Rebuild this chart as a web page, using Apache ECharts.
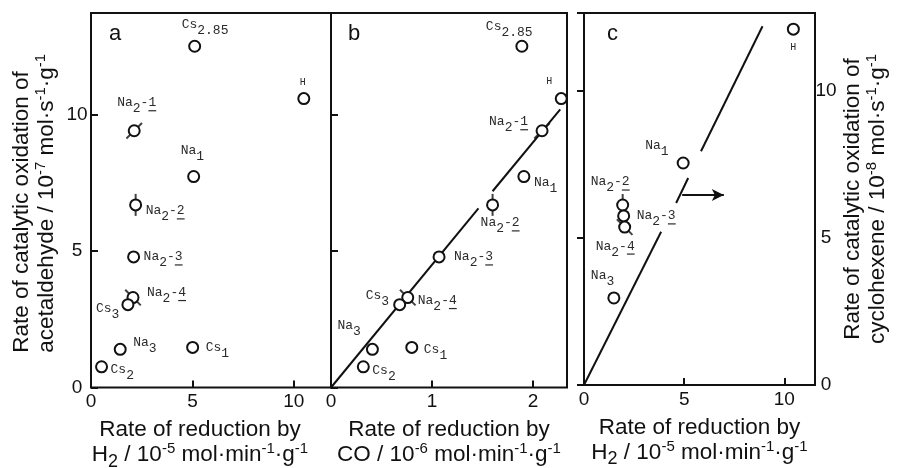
<!DOCTYPE html>
<html><head><meta charset="utf-8">
<script src="https://cdn.jsdelivr.net/npm/echarts@6/dist/echarts.min.js"></script>
<style>html,body{margin:0;padding:0;background:#fff}#c{width:899px;height:468px}</style>
</head><body><div id="c"></div>
<script>
// ---------- data ----------
const catalysts = ['Cs2.85','H','Na2-1','Na1','Na2-2','Na2-3','Na2-4','Cs3','Na3','Cs1','Cs2'];
// rate of catalytic oxidation of acetaldehyde / 1e-7 mol s-1 g-1 (panels a, b)
const acetaldehydeRate = [12.52, 10.6, 9.42, 7.74, 6.7, 4.79, 3.3, 3.04, 1.4, 1.47, 0.76];
// panel a : rate of reduction by H2 / 1e-5 mol min-1 g-1
const h2RateA = [5.11, 10.49, 2.13, 5.06, 2.2, 2.1, 2.07, 1.82, 1.44, 5.01, 0.52];
// panel b : rate of reduction by CO / 1e-6 mol min-1 g-1
const coRateB = [1.89, 2.28, 2.09, 1.91, 1.6, 1.07, 0.76, 0.68, 0.41, 0.8, 0.32];
// panel c
const catalystsC = ['H','Na1','Na2-2','Na2-3','Na2-4','Na3'];
const h2RateC = [10.45, 4.95, 1.93, 1.98, 2.03, 1.49];
const cyclohexeneRate = [12.1, 7.55, 6.12, 5.75, 5.37, 2.96];
// drawn correlation lines (segments as drawn)
const fitLineB = [[[0, 0], [1.46, 6.57]], [[1.6, 7.2], [2.27, 10.2]]];
const fitLineC = [[[0, 0], [3.85, 5.21]], [[4.6, 6.19], [5.2, 7.04]], [[5.84, 7.95], [8.91, 12.2]]];
const arrowC = [[4.9, 6.46], [6.98, 6.46]];
// tick labels
const ticksXA = [0, 5, 10];
const ticksXB = [0, 1, 2];
const ticksXC = [0, 5, 10];
const ticksYLeft = [0, 5, 10];
const ticksYRight = [0, 5, 10];

// ---------- styles ----------
const SANS = 'Liberation Sans, Arial, Helvetica, sans-serif';
const MONO = 'Liberation Mono, Courier New, monospace';
const INK = '#111';
const LBL = '#2a2a2a';
const SYM = 11;
const CHW = 13 * 0.6; // monospace advance at 13px

const labelOffsetA = {
  'Cs2.85': [-13, -29], 'H': [-4, -23], 'Na2-1': [-17, -35], 'Na1': [-13, -33],
  'Na2-2': [10, -1], 'Na2-3': [10, -7], 'Na2-4': [14, -12], 'Cs3': [-32, -3],
  'Na3': [13, -14], 'Cs1': [13, -7], 'Cs2': [9, -4]
};
const labelOffsetB = {
  'Cs2.85': [-36, -27], 'H': [-15, -24], 'Na2-1': [-53, -16], 'Na1': [10, -1],
  'Na2-2': [-12, 11], 'Na2-3': [15, -7], 'Na2-4': [10, -4], 'Cs3': [-34, -16],
  'Na3': [-35, -31], 'Cs1': [12, -5], 'Cs2': [9, -3]
};
const labelOffsetC = {
  'H': [-3, 11], 'Na1': [-38, -24], 'Na2-2': [-32, -30], 'Na2-3': [13, -7],
  'Na2-4': [-29, 12], 'Na3': [-23, -29]
};
const pipAnglesAB = {'Na2-1': -45, 'Na2-2': 0, 'Na2-4': 45};
const pipAnglesC = {'Na2-2': 0, 'Na2-4': 45};

const pointRich = {
  n: {fontFamily: MONO, fontSize: 13, lineHeight: 14, color: LBL},
  s: {fontFamily: MONO, fontSize: 13, lineHeight: 14, padding: [12, 0, 0, 0], color: LBL},
  h: {fontFamily: MONO, fontSize: 10, lineHeight: 14, color: LBL},
  sp: {fontFamily: MONO, fontSize: 13, lineHeight: 2, width: 4 * CHW},
  ul: {fontFamily: MONO, fontSize: 13, lineHeight: 2, width: CHW, height: 1.2, backgroundColor: LBL}
};
const TS = 22.5;
const nameRich = {
  t: {fontFamily: SANS, fontSize: TS, lineHeight: 25, color: INK},
  tl: {fontFamily: SANS, fontSize: TS, lineHeight: 25, color: INK, align: 'left'},
  p: {fontFamily: SANS, fontSize: 15, lineHeight: 14, padding: [0, 0, 12, 0], color: INK},
  b: {fontFamily: SANS, fontSize: 18, lineHeight: 16, padding: [14, 0, 0, 0], color: INK}
};

function labelText(name) {
  if (name === 'H') return '{h|H}';
  const m = name.match(/^([A-Z][a-z])([\d.]+)(?:-(\d))?$/);
  let s = '{n|' + m[1] + '}{s|' + m[2] + '}';
  if (m[3]) s += '{n|-' + m[3] + '}\n{sp| }{ul| }';   // underlined sample number
  return s;
}

function pointSeries(names, xs, ys, offsets, idx) {
  return {
    type: 'scatter', xAxisIndex: idx, yAxisIndex: idx, z: 5, silent: true,
    symbol: 'circle', symbolSize: SYM,
    itemStyle: {color: '#fff', borderColor: INK, borderWidth: 2, opacity: 1},
    emphasis: {disabled: true},
    data: names.map((n, i) => ({
      value: [xs[i], ys[i]], name: n,
      label: {
        show: true, position: 'inside', offset: offsets[n], align: 'left', verticalAlign: 'top',
        formatter: () => labelText(n), rich: pointRich
      }
    }))
  };
}
function pipSeries(names, xs, ys, angles, idx) {
  const data = [];
  names.forEach((n, i) => { if (n in angles) data.push({value: [xs[i], ys[i]], symbolRotate: angles[n]}); });
  return {type: 'scatter', xAxisIndex: idx, yAxisIndex: idx, z: 4, silent: true,
    symbol: 'rect', symbolSize: [2, 22], itemStyle: {color: INK}, emphasis: {disabled: true}, data};
}
function segSeries(seg, idx, extra) {
  return Object.assign({type: 'line', xAxisIndex: idx, yAxisIndex: idx, z: 3, silent: true,
    symbol: 'none', lineStyle: {color: INK, width: 2}, data: seg}, extra || {});
}

function tickFmt(list) { return v => (list.indexOf(Math.round(v * 1000) / 1000) >= 0 ? String(v) : ''); }
const tickStyle = {show: true, inside: true, length: 7, lineStyle: {color: INK, width: 2}};
const labelBase = {fontFamily: SANS, fontSize: 19, color: INK};

function xAxis(idx, max, interval, ticks, name, pad) {
  return {
    type: 'value', gridIndex: idx, min: 0, max: max, interval: interval,
    splitLine: {show: false}, axisLine: {show: false}, axisTick: tickStyle,
    axisLabel: Object.assign({margin: 5, formatter: tickFmt(ticks), showMaxLabel: true}, labelBase),
    name: name, nameLocation: 'middle', nameGap: 30, nameMoveOverlap: false,
    nameTextStyle: {rich: nameRich, padding: pad || [0, 0, 0, 0]}
  };
}

const nameXA = '{t|Rate of reduction by}\n{t|H}{b|2}{t| / 10}{p|-5}{t| mol·min}{p|-1}{t|·g}{p|-1}';
const nameXB = '{t|Rate of reduction by}\n{t|CO / 10}{p|-6}{t| mol·min}{p|-1}{t|·g}{p|-1}';
const nameXC = nameXA;
const nameYL = '{tl|Rate of catalytic oxidation of}\n{t|acetaldehyde / 10}{p|-7}{t| mol·s}{p|-1}{t|·g}{p|-1}';
const nameYR = '{t|Rate of catalytic oxidation of}\n{t|cyclohexene / 10}{p|-8}{t| mol·s}{p|-1}{t|·g}{p|-1}';

const gridBase = {show: true, borderColor: INK, borderWidth: 2, backgroundColor: 'transparent', containLabel: false, outerBoundsMode: 'none'};

const option = {
  animation: false,
  backgroundColor: '#fff',
  grid: [
    Object.assign({left: 91, top: 13, width: 240, height: 374.5}, gridBase),
    Object.assign({left: 331, top: 13, width: 236, height: 374.5}, gridBase),
    Object.assign({left: 584, top: 13, width: 231, height: 372}, gridBase)
  ],
  xAxis: [
    xAxis(0, 11.83, 5, ticksXA, nameXA, [0, 22, 0, 0]),
    xAxis(1, 2.337, 1, ticksXB, nameXB),
    xAxis(2, 11.53, 5, ticksXC, nameXC)
  ],
  yAxis: [
    {type: 'value', gridIndex: 0, min: 0, max: 13.74, interval: 5,
      splitLine: {show: false}, axisLine: {show: false}, axisTick: tickStyle,
      axisLabel: Object.assign({margin: 14, align: 'center', formatter: tickFmt(ticksYLeft)}, labelBase),
      name: nameYL, nameLocation: 'middle', nameGap: 32, nameMoveOverlap: false,
      nameTextStyle: {rich: nameRich, padding: [0, 6, 0, 0]}},
    {type: 'value', gridIndex: 1, min: 0, max: 13.74, interval: 5,
      splitLine: {show: false}, axisLine: {show: false}, axisTick: tickStyle,
      axisLabel: {show: false}},
    {type: 'value', gridIndex: 2, position: 'right', min: 0, max: 12.65, interval: 5,
      splitLine: {show: false}, axisLine: {show: false}, axisTick: tickStyle,
      axisLabel: Object.assign({margin: 11, align: 'center', formatter: tickFmt(ticksYRight)}, labelBase),
      name: nameYR, nameLocation: 'middle', nameGap: 25, nameMoveOverlap: false,
      nameTextStyle: {rich: nameRich}}
  ],
  graphic: [
    {type: 'text', x: 109, y: 23, style: {text: 'a', font: '22px ' + SANS, fill: INK, verticalAlign: 'top'}},
    {type: 'text', x: 348, y: 23, style: {text: 'b', font: '22px ' + SANS, fill: INK, verticalAlign: 'top'}},
    {type: 'text', x: 607, y: 23, style: {text: 'c', font: '22px ' + SANS, fill: INK, verticalAlign: 'top'}}
  ],
  series: [
    pipSeries(catalysts, h2RateA, acetaldehydeRate, pipAnglesAB, 0),
    pointSeries(catalysts, h2RateA, acetaldehydeRate, labelOffsetA, 0),
    ...fitLineB.map(s => segSeries(s, 1)),
    pipSeries(catalysts, coRateB, acetaldehydeRate, pipAnglesAB, 1),
    pointSeries(catalysts, coRateB, acetaldehydeRate, labelOffsetB, 1),
    ...fitLineC.map((s, i) => segSeries(s, 2, i === 0 ? {
      markLine: {silent: true, symbol: ['none', 'arrow'], symbolSize: [9, 12],
        lineStyle: {color: INK, width: 2, type: 'solid'}, label: {show: false},
        emphasis: {disabled: true},
        data: [[{coord: arrowC[0]}, {coord: arrowC[1]}]]}
    } : {})),
    pipSeries(catalystsC, h2RateC, cyclohexeneRate, pipAnglesC, 2),
    pointSeries(catalystsC, h2RateC, cyclohexeneRate, labelOffsetC, 2)
  ]
};
const chart = echarts.init(document.getElementById('c'), null, {renderer: 'canvas'});
chart.setOption(option);
</script>
</body></html>
